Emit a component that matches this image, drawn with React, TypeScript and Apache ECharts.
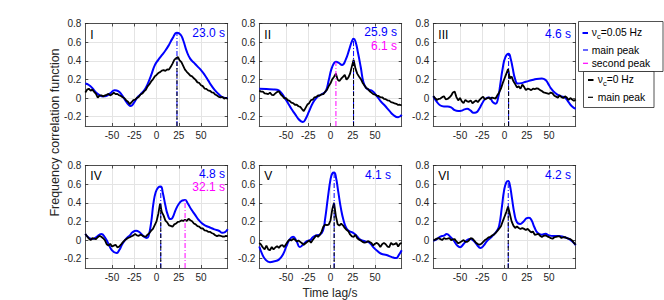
import React, { useEffect, useRef } from 'react';
import * as echarts from 'echarts';

const FONT = '"Liberation Sans", Arial, Helvetica, sans-serif';

const panelNames = ['I', 'II', 'III', 'IV', 'V', 'VI'];
const xTicks = [-50, -25, 0, 25, 50];
const yTicks = [-0.2, 0, 0.2, 0.4, 0.6, 0.8];
const xMin = -80, xMax = 80, yMin = -0.3, yMax = 0.8;

// black curves (nu_c = 0 Hz) sampled every 2 s from -80 to 80
const blackLag = Array.from({ length: 81 }, (_, i) => -80 + 2 * i);

const blackI = [
  0.06, 0.09, 0.1, 0.08, 0.09, 0.065, 0.045, 0.005, 0.025, 0.03,
  0.018, 0.028, 0.035, 0.045, 0.028, 0.04, 0.058, 0.042, 0.045, 0.03,
  0.022, 0.008, -0.002, -0.025, -0.04, -0.065, -0.045, -0.022, -0.018, 0.002,
  0.012, 0.038, 0.048, 0.072, 0.088, 0.125, 0.148, 0.178, 0.2, 0.232,
  0.248, 0.268, 0.278, 0.295, 0.3, 0.292, 0.308, 0.305, 0.335, 0.37,
  0.41, 0.428, 0.44, 0.405, 0.385, 0.345, 0.305, 0.282, 0.262, 0.24,
  0.232, 0.212, 0.195, 0.168, 0.162, 0.138, 0.128, 0.102, 0.098, 0.082,
  0.078, 0.062, 0.058, 0.038, 0.028, 0.012, 0.008, 0.012, -0.006, 0.002,
  -0.01,
];
const blackII = [
  0.08, 0.068, 0.07, 0.05, 0.048, 0.042, 0.058, 0.035, 0.032, 0.05,
  0.065, 0.072, 0.04, 0.022, -0.002, -0.002, -0.022, -0.03, -0.05, -0.055,
  -0.072, -0.07, -0.088, -0.095, -0.118, -0.14, -0.105, -0.07, -0.055, -0.022,
  -0.018, 0.008, 0.012, 0.028, 0.026, 0.04, 0.042, 0.068, 0.088, 0.128,
  0.158, 0.202, 0.228, 0.262, 0.198, 0.182, 0.208, 0.228, 0.248, 0.198,
  0.218, 0.262, 0.34, 0.41, 0.318, 0.262, 0.232, 0.205, 0.165, 0.138,
  0.108, 0.098, 0.072, 0.058, 0.042, 0.038, 0.026, 0.022, 0.008, 0.008,
  -0.008, -0.012, -0.024, -0.028, -0.044, -0.048, -0.058, -0.062, -0.074, -0.072,
  -0.08,
];
const blackIII = [
  0.02, 0.0, -0.02, -0.01, -0.005, 0.01, 0.02, -0.015, -0.01, 0.005,
  0.025, 0.06, 0.07, 0.01, -0.025, 0.0, -0.035, -0.055, -0.02, -0.035,
  -0.04, -0.025, -0.055, -0.04, -0.025, -0.045, -0.02, 0.0, 0.015, -0.015,
  -0.005, 0.005, -0.01, 0.005, 0.0, -0.005, 0.03, 0.06, 0.1, 0.16,
  0.21, 0.26, 0.31, 0.21, 0.23, 0.18, 0.15, 0.115, 0.125, 0.1,
  0.145, 0.12, 0.085, 0.1, 0.095, 0.085, 0.1, 0.095, 0.105, 0.1,
  0.085, 0.075, 0.06, 0.055, 0.05, 0.045, 0.06, 0.05, 0.025, 0.015,
  0.005, 0.03, 0.01, 0.0, 0.018, 0.005, -0.02, 0.0, -0.015, -0.03,
  -0.015,
];
const blackIV = [
  0.065, 0.04, 0.015, 0.0, 0.02, 0.015, 0.01, 0.03, 0.045, 0.035,
  0.02, 0.0, -0.045, -0.06, -0.04, -0.07, -0.06, -0.05, -0.078, -0.07,
  -0.05, -0.025, -0.005, 0.01, 0.022, 0.03, 0.04, 0.05, 0.065, 0.05,
  0.045, 0.058, 0.048, 0.04, 0.036, 0.058, 0.075, 0.1, 0.12, 0.16,
  0.2, 0.28, 0.39, 0.3, 0.262, 0.208, 0.19, 0.158, 0.152, 0.142,
  0.168, 0.178, 0.195, 0.198, 0.21, 0.205, 0.218, 0.205, 0.228, 0.212,
  0.202, 0.178, 0.168, 0.15, 0.145, 0.126, 0.124, 0.104, 0.102, 0.088,
  0.088, 0.076, 0.068, 0.052, 0.042, 0.05, 0.046, 0.038, 0.036, 0.045,
  0.04,
];
const blackV = [
  -0.03, -0.05, -0.08, -0.1, -0.06, -0.1, -0.11, -0.075, -0.1, -0.08,
  -0.065, -0.085, -0.06, -0.055, -0.075, -0.045, -0.015, 0.005, -0.005, 0.012,
  0.005, -0.014, -0.005, -0.02, -0.035, -0.05, -0.035, -0.02, -0.005, -0.028,
  0.0, 0.025, 0.05, 0.035, 0.055, 0.09, 0.145, 0.165, 0.16, 0.165,
  0.21, 0.33, 0.4, 0.26, 0.17, 0.155, 0.175, 0.158, 0.13, 0.11,
  0.095, 0.06, 0.04, 0.035, 0.055, 0.02, 0.005, -0.005, -0.02, -0.028,
  -0.025, -0.012, -0.02, -0.032, -0.058, -0.04, -0.03, -0.045, -0.075, -0.045,
  -0.03, -0.045, -0.07, -0.075, -0.03, -0.05, -0.045, -0.03, -0.07, -0.04,
  -0.03,
];
const blackVI = [
  -0.005, 0.005, 0.015, 0.022, 0.01, 0.0, 0.022, 0.012, 0.015, 0.022,
  0.0, 0.008, 0.01, -0.015, -0.035, -0.025, -0.012, 0.0, -0.02, -0.02,
  -0.005, 0.02, 0.015, -0.005, -0.03, -0.043, -0.05, -0.04, -0.02, 0.0,
  0.012, 0.028, 0.033, 0.048, 0.058, 0.078, 0.098, 0.122, 0.148, 0.2,
  0.25, 0.3, 0.36, 0.28, 0.2, 0.155, 0.13, 0.145, 0.13, 0.118,
  0.13, 0.12, 0.108, 0.12, 0.1, 0.083, 0.092, 0.055, 0.06, 0.068,
  0.045, 0.033, 0.045, 0.05, 0.04, 0.032, 0.02, 0.014, 0.03, 0.035,
  0.04, 0.04, 0.022, 0.03, 0.032, 0.02, 0.014, 0.01, -0.005, -0.03,
  -0.05,
];

// blue curves (nu_c = 0.05 Hz): lags and values
const blueLagI = [-80, -76, -72, -68, -64, -60, -56, -52, -47, -43, -39, -35, -31, -29, -26, -22, -18, -14, -10, -6, -2, 2, 6, 10, 14, 18, 23, 27, 30, 34, 38, 42, 46, 50, 54, 58, 62, 66, 70, 74, 80];
const blueI = [0.155, 0.14, 0.105, 0.06, 0.03, 0.018, 0.025, 0.05, 0.085, 0.075, 0.035, -0.025, -0.075, -0.085, -0.06, 0.0, 0.04, 0.08, 0.15, 0.245, 0.35, 0.41, 0.46, 0.51, 0.57, 0.64, 0.7, 0.68, 0.62, 0.5, 0.42, 0.38, 0.34, 0.3, 0.25, 0.19, 0.13, 0.08, 0.04, 0.01, 0.0];

const blueLagII = [-80, -72, -64, -60, -56, -52, -48, -44, -40, -36, -33, -31, -28, -24, -20, -16, -12, -8, -5, -2, 1, 4, 6.1, 9, 13, 17, 21, 24, 25.9, 28, 31, 34, 37, 40, 43, 47, 51, 56, 61, 66, 71, 76, 80];
const blueII = [0.1, 0.096, 0.092, 0.088, 0.064, 0.01, -0.05, -0.115, -0.17, -0.225, -0.25, -0.257, -0.225, -0.14, -0.055, 0.0, 0.03, 0.05, 0.08, 0.19, 0.31, 0.375, 0.39, 0.38, 0.355, 0.41, 0.52, 0.607, 0.636, 0.61, 0.48, 0.33, 0.17, 0.11, 0.09, 0.075, 0.035, -0.03, -0.08, -0.135, -0.185, -0.207, -0.18];

const blueLagIII = [-80, -76, -72, -68, -64, -60, -56, -52, -48, -45, -42, -38, -35, -32, -28, -25, -21, -17, -13, -10, -7, -5, -2, 1, 4.6, 7, 9, 12, 15, 19, 24, 30, 36, 42, 46, 49, 52, 57, 63, 68, 72, 76, 80];
const blueIII = [0.02, -0.04, -0.08, -0.09, -0.09, -0.1, -0.13, -0.14, -0.135, -0.122, -0.115, -0.135, -0.158, -0.155, -0.11, -0.055, -0.005, 0.005, -0.045, -0.06, 0.01, 0.13, 0.32, 0.44, 0.475, 0.42, 0.33, 0.2, 0.155, 0.16, 0.175, 0.19, 0.205, 0.21, 0.195, 0.155, 0.107, 0.055, 0.02, 0.005, -0.045, -0.09, -0.115];

const blueLagIV = [-80, -76, -72, -68, -62, -58, -54, -50, -45, -42, -38, -34, -30, -27, -23, -19, -15, -11, -9, -6, -3.5, -1, 2, 4.8, 7, 10, 12.5, 15.5, 18, 22, 26, 29, 32.1, 35, 39, 43, 47, 51, 55, 60, 65, 70, 74, 77, 80];
const blueIV = [0.065, 0.025, 0.011, 0.03, 0.065, 0.03, -0.04, -0.11, -0.14, -0.11, -0.036, 0.015, 0.05, 0.083, 0.1, 0.083, 0.045, 0.022, 0.04, 0.19, 0.39, 0.51, 0.565, 0.575, 0.51, 0.37, 0.275, 0.225, 0.24, 0.335, 0.4, 0.425, 0.43, 0.395, 0.33, 0.275, 0.22, 0.18, 0.155, 0.135, 0.115, 0.1, 0.078, 0.085, 0.115];

const blueLagV = [-80, -77, -73, -68, -64, -58, -53, -49.5, -46, -42, -38, -34.5, -31, -27, -23, -19.6, -16, -12, -8.5, -6, -3, 0, 2, 4.1, 6, 8.7, 11.7, 14.7, 17.7, 21.4, 25, 29, 33, 39, 44, 48, 52, 57, 63, 69, 73.7, 76.5, 80];
const blueV = [-0.07, -0.145, -0.21, -0.237, -0.23, -0.21, -0.147, -0.065, 0.005, 0.035, -0.015, -0.075, -0.05, -0.015, 0.0, 0.032, 0.05, 0.058, 0.1, 0.23, 0.45, 0.65, 0.715, 0.725, 0.68, 0.52, 0.34, 0.21, 0.13, 0.094, 0.08, 0.05, 0.007, -0.014, -0.03, -0.076, -0.112, -0.147, -0.16, -0.183, -0.194, -0.165, -0.11];

const blueLagVI = [-80, -76, -72, -68, -65, -61, -57, -53, -50, -46, -42, -38.5, -35, -31, -27, -23.5, -20, -16, -12, -8.5, -6, -3, -0.5, 2, 4.2, 6, 8.2, 11.2, 14, 17.5, 21.5, 25, 27.5, 30.5, 33.5, 37, 42, 46, 50, 55, 61, 66.6, 72, 76, 80];
const blueVI = [-0.007, 0.01, 0.036, 0.048, 0.065, 0.036, -0.007, -0.06, -0.077, -0.043, 0.0, 0.011, -0.005, -0.05, -0.085, -0.06, -0.014, 0.022, 0.058, 0.1, 0.155, 0.35, 0.53, 0.62, 0.635, 0.59, 0.46, 0.28, 0.19, 0.172, 0.2, 0.235, 0.24, 0.21, 0.14, 0.08, 0.058, 0.068, 0.05, 0.043, 0.043, 0.032, 0.014, -0.014, -0.055];

// peaks
const mainLag = [23.0, 25.9, 4.6, 4.8, 4.1, 4.2];
const blueMainPeak = [0.7, 0.636, 0.475, 0.575, 0.725, 0.635];
const blackMainPeak = [0.44, 0.41, 0.31, 0.39, 0.4, 0.36];
const secondLag = [null, 6.1, null, 32.1, null, null];
const secondPeak = [null, 0.39, null, 0.43, null, null];
const mainLabels = ['23.0 s', '25.9 s', '4.6 s', '4.8 s', '4.1 s', '4.2 s'];
const secondLabels = [null, '6.1 s', null, '32.1 s', null, null];

const blueLags = [blueLagI, blueLagII, blueLagIII, blueLagIV, blueLagV, blueLagVI];
const blueVals = [blueI, blueII, blueIII, blueIV, blueV, blueVI];
const blackVals = [blackI, blackII, blackIII, blackIV, blackV, blackVI];

// layout
const gridLeft = [85.3, 259.3, 433.3];
const gridTop = [23.5, 165.5];
const gridW = 142.4;
const gridH = 102.5;
const mainLabelRight = [225, 397, 571, 225, 391, 571];
const mainLabelY = [33, 32.3, 34, 173.5, 175, 174.5];
const secondLabelY = [null, 46.3, null, 187.3, null, null];
const numeralY = [34.5, 34.5, 34.5, 175.5, 175.5, 175.5];

const BLUE = '#0000ff';
const MAGENTA = '#ff00ff';
const AXIS = '#262626';
const GRIDC = '#e4e4e4';
const DASHDOT = [5, 2, 1, 2];
const DASH = [4, 2];

function buildOption() {
  const grids: any[] = [];
  const xBottom: any[] = [];
  const xTop: any[] = [];
  const yLeft: any[] = [];
  const yRight: any[] = [];
  const series: any[] = [];
  const graphics: any[] = [];

  for (let i = 0; i < 6; i++) {
    const col = i % 3;
    const row = Math.floor(i / 3);
    const left = gridLeft[col];
    const top = gridTop[row];
    grids.push({ left, top, width: gridW, height: gridH, containLabel: false, show: false });

    const common = {
      type: 'value',
      gridIndex: i,
      axisLine: { show: true, onZero: false, lineStyle: { color: AXIS, width: 0.8 } },
    };
    xBottom.push({
      ...common,
      position: 'bottom',
      min: xMin,
      max: xMax,
      axisTick: { show: true, inside: true, length: 3, customValues: xTicks, lineStyle: { color: AXIS, width: 0.8 } },
      axisLabel: { show: true, customValues: xTicks, margin: 4, color: AXIS, fontSize: 10, fontFamily: FONT },
      splitLine: { show: true, lineStyle: { color: GRIDC, width: 1 } },
    });
    xTop.push({
      ...common,
      position: 'top',
      min: xMin,
      max: xMax,
      axisTick: { show: true, inside: true, length: 3, customValues: xTicks, lineStyle: { color: AXIS, width: 0.8 } },
      axisLabel: { show: false },
      splitLine: { show: false },
    });
    yLeft.push({
      ...common,
      position: 'left',
      min: yMin,
      max: yMax,
      axisTick: { show: true, inside: true, length: 3, customValues: yTicks, lineStyle: { color: AXIS, width: 0.8 } },
      axisLabel: { show: true, customValues: yTicks, margin: 4, color: AXIS, fontSize: 10, fontFamily: FONT },
      splitLine: { show: true, lineStyle: { color: GRIDC, width: 1 } },
    });
    yRight.push({
      ...common,
      position: 'right',
      min: yMin,
      max: yMax,
      axisTick: { show: true, inside: true, length: 3, customValues: yTicks, lineStyle: { color: AXIS, width: 0.8 } },
      axisLabel: { show: false },
      splitLine: { show: false },
    });

    const blueData = blueLags[i].map((x, j) => [x, blueVals[i][j]]);
    const blackData = blackLag.map((x, j) => [x, blackVals[i][j]]);

    series.push({
      type: 'line', xAxisIndex: i, yAxisIndex: i, data: blueData,
      smooth: 0.5, symbol: 'none', z: 2,
      lineStyle: { color: BLUE, width: 2 },
    });
    series.push({
      type: 'line', xAxisIndex: i, yAxisIndex: i, data: blackData,
      smooth: false, symbol: 'none', z: 3,
      lineStyle: { color: '#000', width: 1.8 },
    });
    series.push({
      type: 'line', xAxisIndex: i, yAxisIndex: i,
      data: [[mainLag[i], yMin], [mainLag[i], blueMainPeak[i]]],
      symbol: 'none', z: 4,
      lineStyle: { color: BLUE, width: 1, type: DASHDOT },
    });
    series.push({
      type: 'line', xAxisIndex: i, yAxisIndex: i,
      data: [[mainLag[i], yMin], [mainLag[i], blackMainPeak[i]]],
      symbol: 'none', z: 5,
      lineStyle: { color: '#000', width: 1, type: DASH },
    });
    if (secondLag[i] !== null) {
      series.push({
        type: 'line', xAxisIndex: i, yAxisIndex: i,
        data: [[secondLag[i], yMin], [secondLag[i], secondPeak[i]]],
        symbol: 'none', z: 4,
        lineStyle: { color: MAGENTA, width: 1, type: DASHDOT },
      });
    }

    graphics.push({
      type: 'text', x: left + 5, y: numeralY[i], z: 10,
      style: { text: panelNames[i], fill: '#000', fontSize: 12, fontFamily: FONT, align: 'left', verticalAlign: 'middle' },
    });
    graphics.push({
      type: 'text', x: mainLabelRight[i], y: mainLabelY[i], z: 10,
      style: { text: mainLabels[i], fill: BLUE, fontSize: 12, fontFamily: FONT, align: 'right', verticalAlign: 'middle' },
    });
    if (secondLabels[i] !== null) {
      graphics.push({
        type: 'text', x: mainLabelRight[i], y: secondLabelY[i], z: 10,
        style: { text: secondLabels[i], fill: MAGENTA, fontSize: 12, fontFamily: FONT, align: 'right', verticalAlign: 'middle' },
      });
    }
  }

  // axis titles
  graphics.push({
    type: 'text', x: 330, y: 293,
    style: { text: 'Time lag/s', fill: AXIS, fontSize: 12, fontFamily: FONT, align: 'center', verticalAlign: 'middle' },
  });
  graphics.push({
    type: 'text', x: 55, y: 132.5, rotation: Math.PI / 2,
    style: { text: 'Frequency correlation function', fill: AXIS, fontSize: 12.5, fontFamily: FONT, align: 'center', verticalAlign: 'middle' },
  });

  // legends
  const lf = 10.3;
  const legendText = (x: number, y: number, text: string, sub?: boolean) => {
    const els: any[] = [];
    if (sub) {
      els.push({ type: 'text', x, y, z: 21, style: { text: 'ν', fill: '#000', fontSize: lf, fontFamily: FONT, align: 'left', verticalAlign: 'middle' } });
      els.push({ type: 'text', x: x + 5.2, y: y + 3.5, z: 21, style: { text: 'c', fill: '#000', fontSize: 7.5, fontFamily: FONT, align: 'left', verticalAlign: 'middle' } });
      els.push({ type: 'text', x: x + 9, y, z: 21, style: { text, fill: '#000', fontSize: lf, fontFamily: FONT, align: 'left', verticalAlign: 'middle' } });
    } else {
      els.push({ type: 'text', x, y, z: 21, style: { text, fill: '#000', fontSize: lf, fontFamily: FONT, align: 'left', verticalAlign: 'middle' } });
    }
    return els;
  };
  const legendLine = (x1: number, x2: number, y: number, color: string, w: number) => ({
    type: 'line', z: 21, shape: { x1, y1: y, x2, y2: y }, style: { stroke: color, lineWidth: w },
  });

  graphics.push({
    type: 'rect', z: 20, shape: { x: 578.5, y: 21.5, width: 84.5, height: 50 },
    style: { fill: '#fff', stroke: AXIS, lineWidth: 0.8 },
  });
  graphics.push(legendLine(582.5, 588, 33, BLUE, 2));
  graphics.push(...legendText(591.7, 32.7, '=0.05 Hz', true));
  graphics.push(legendLine(583, 588, 50, BLUE, 1.2));
  graphics.push(...legendText(591.7, 50, 'main peak'));
  graphics.push(legendLine(583, 588, 63.3, MAGENTA, 1.2));
  graphics.push(...legendText(591.7, 63.3, 'second peak'));

  graphics.push({
    type: 'rect', z: 20, shape: { x: 583.5, y: 71.5, width: 70.5, height: 36 },
    style: { fill: '#fff', stroke: AXIS, lineWidth: 0.8 },
  });
  graphics.push(legendLine(588, 593.5, 80, '#000', 2));
  graphics.push(...legendText(597.7, 79.7, '=0 Hz', true));
  graphics.push(legendLine(588, 593, 97.3, '#000', 1.2));
  graphics.push(...legendText(597.7, 97.3, 'main peak'));

  return {
    animation: false,
    backgroundColor: '#fff',
    grid: grids,
    xAxis: [...xBottom, ...xTop],
    yAxis: [...yLeft, ...yRight],
    series,
    graphic: graphics,
  };
}

export default function App() {
  const ref = useRef<HTMLDivElement>(null);
  useEffect(() => {
    if (!ref.current) return;
    const chart = echarts.init(ref.current, undefined, { renderer: 'svg' });
    chart.setOption(buildOption() as any);
    return () => chart.dispose();
  }, []);
  return <div ref={ref} style={{ position: 'absolute', left: 0, top: 0, width: 664, height: 300 }} />;
}
